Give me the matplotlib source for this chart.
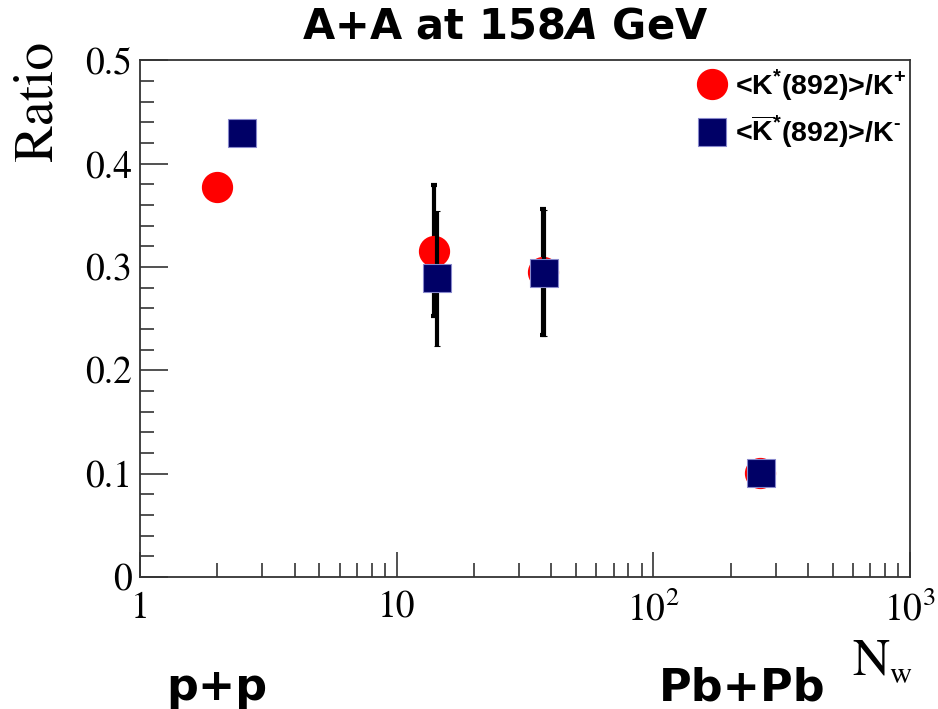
import matplotlib.pyplot as plt
from matplotlib.lines import Line2D
from matplotlib.ticker import FixedLocator, NullFormatter

# K*(892)/K+ ratio vs number of wounded nucleons
npart_kp = [2.0, 14.0, 37.0, 261.0]
ratio_kp = [0.378, 0.316, 0.295, 0.101]
err_kp = [0.0, 0.063, 0.061, 0.008]

# anti-K*(892)/K- ratio
npart_km = [2.5, 14.4, 37.5, 262.0]
ratio_km = [0.430, 0.289, 0.294, 0.101]
err_km = [0.0, 0.065, 0.061, 0.009]

x_major = [1, 10, 100, 1000]
x_major_labels = ["1", "10", r"$\mathrm{10^{2}}$", r"$\mathrm{10^{3}}$"]
y_major = [0.0, 0.1, 0.2, 0.3, 0.4, 0.5]
y_major_labels = ["0", "0.1", "0.2", "0.3", "0.4", "0.5"]

RED = "#ff0000"
NAVY = "#000066"
SERIF = "STIXGeneral"

plt.rcParams["mathtext.fontset"] = "custom"
plt.rcParams["mathtext.rm"] = "Liberation Sans:bold"
plt.rcParams["mathtext.bf"] = "Liberation Sans:bold"
plt.rcParams["mathtext.it"] = "DejaVu Sans:bold:italic"

fig = plt.figure(figsize=(9.38, 7.09), dpi=100)
ax = fig.add_axes([0.1493, 0.1862, 0.8208, 0.7285])

ax.errorbar(npart_kp, ratio_kp, yerr=err_kp, fmt="o", color=RED, ms=21.5,
            mec=RED, ecolor="black", elinewidth=3, capsize=2.2, capthick=3,
            zorder=3)
ax.errorbar(npart_km, ratio_km, yerr=err_km, fmt="s", color=NAVY, ms=20.5,
            mec="#8888cc", mew=0.8, ecolor="black", elinewidth=3, capsize=2.2,
            capthick=3, zorder=4)

ax.set_xscale("log")
ax.set_xlim(1, 1000)
ax.set_ylim(0, 0.5)

ax.xaxis.set_major_locator(FixedLocator(x_major))
ax.set_xticks(x_major, x_major_labels)
ax.xaxis.set_minor_locator(FixedLocator(
    [m * d for d in (1, 10, 100) for m in range(2, 10)]))
ax.xaxis.set_minor_formatter(NullFormatter())
ax.set_yticks(y_major, y_major_labels)
ax.set_yticks([i * 0.02 for i in range(26)], minor=True)

for lab in ax.get_xticklabels() + ax.get_yticklabels():
    lab.set_fontfamily(SERIF)
    lab.set_fontsize(27)
    lab.set_math_fontfamily("stix")

ax.tick_params(which="major", direction="in", length=20, width=1.2,
               color="#333333", pad=6)
ax.tick_params(which="minor", direction="in", length=10, width=1.2,
               color="#333333")
ax.tick_params(axis="x", which="major", length=18, pad=10)
for sp in ax.spines.values():
    sp.set_color("#333333")
    sp.set_linewidth(1.3)

fig.text(0.014, 0.857, "Ratio", rotation=90, fontfamily=SERIF, fontsize=40,
         ha="left", va="center")
fig.text(0.909, 0.048, "N", fontfamily=SERIF, fontsize=37, ha="left",
         va="baseline")
fig.text(0.948, 0.036, "w", fontfamily=SERIF, fontsize=22, ha="left",
         va="baseline")

fig.text(0.538, 0.962, r"A+A at 158$\it{A}$ GeV", fontfamily="DejaVu Sans",
         fontweight="bold", fontsize=30, ha="center", va="center")
fig.text(0.231, 0.030, "p+p", fontfamily="DejaVu Sans", fontweight="bold",
         fontsize=32, ha="center", va="center")
fig.text(0.791, 0.030, "Pb+Pb", fontfamily="DejaVu Sans", fontweight="bold",
         fontsize=32, ha="center", va="center")

handles = [
    Line2D([], [], ls="none", marker="o", ms=21.5, color=RED, mec=RED),
    Line2D([], [], ls="none", marker="s", ms=20.5, color=NAVY, mec="#8888cc",
           mew=0.8),
]
labels = [r"<K$^{*}$(892)>/K$^{+}$",
          r"<$\overline{\mathrm{K}}^{*}$(892)>/K$^{\text{-}}$"]
ax.legend(handles, labels, loc="upper right", bbox_to_anchor=(1.02, 1.026),
          frameon=False, handlelength=1.0, handletextpad=0.3,
          labelspacing=0.38, borderaxespad=0.3,
          prop={"family": "Liberation Sans", "weight": "bold", "size": 20.5})

fig.savefig("out.png", dpi=100)
